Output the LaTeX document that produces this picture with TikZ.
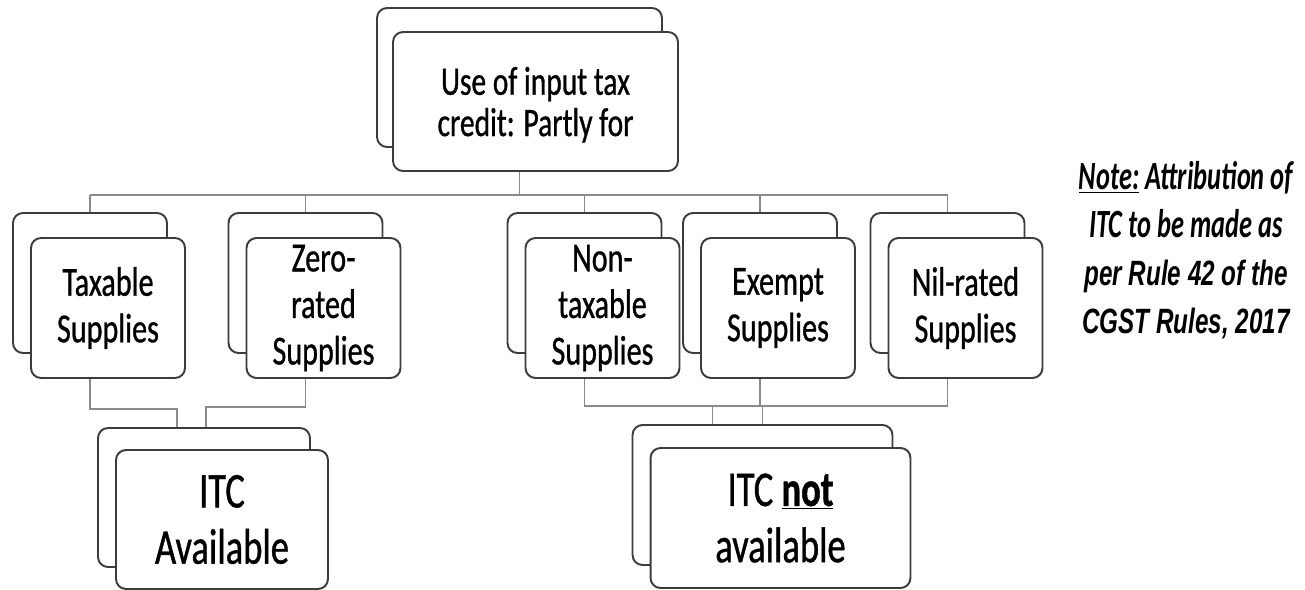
\documentclass[tikz,border=0pt]{standalone}
\usepackage{fontspec}
\setmainfont{Carlito}[FakeStretch=0.73,FakeBold=0.8]
\newfontfamily\notecal{Carlito}[FakeStretch=0.66]
\newfontfamily\notesans{Liberation Sans}[FakeStretch=0.69]
\usetikzlibrary{positioning,calc}
\definecolor{boxline}{HTML}{3C3C3C}
\definecolor{linkgray}{HTML}{8A8A8A}

\begin{document}
\begin{tikzpicture}[x=0.02cm,y=-0.02cm,
  card/.style={draw=boxline,line width=1.1pt,rounded corners=0.2cm,fill=white,inner sep=2pt,align=center},
  link/.style={draw=linkgray,line width=0.9pt},
  toptext/.style={font=\fontsize{23}{23.5}\selectfont},
  midtext/.style={font=\fontsize{23.5}{26.5}\selectfont},
  lowtext/.style={font=\fontsize{28.5}{32}\selectfont}]
\useasboundingbox (0,0) rectangle (1305,590);
% top level
\node[card,minimum width=5.7cm,minimum height=2.78cm] (topb) at (519.5,77.5) {};
\node[card,toptext,minimum width=5.7cm,minimum height=2.78cm,text depth=-0.4cm] (topf) at ($(topb)+(16,24)$) {Use of input tax\\credit: Partly for};
% kinds of supplies
\node[card,minimum width=3.08cm,minimum height=2.8cm] (taxb) at (90,283) {};
\node[card,midtext,minimum width=3.08cm,minimum height=2.8cm] (taxf) at ($(taxb)+(18,25)$) {Taxable\\Supplies};
\node[card,minimum width=3.08cm,minimum height=2.8cm] (zerob) at (305.5,283) {};
\node[card,midtext,minimum width=3.08cm,minimum height=2.8cm] (zerof) at ($(zerob)+(18,25)$) {Zero-\\rated\\Supplies};
\node[card,minimum width=3.08cm,minimum height=2.8cm] (nonb) at (584.5,283) {};
\node[card,midtext,minimum width=3.08cm,minimum height=2.8cm] (nonf) at ($(nonb)+(18,25)$) {Non-\\taxable\\Supplies};
\node[card,minimum width=3.08cm,minimum height=2.8cm] (exb) at (760,283) {};
\node[card,midtext,minimum width=3.08cm,minimum height=2.8cm] (exf) at ($(exb)+(18,25)$) {Exempt\\Supplies};
\node[card,minimum width=3.08cm,minimum height=2.8cm] (nilb) at (947.5,283) {};
\node[card,midtext,minimum width=3.08cm,minimum height=2.8cm] (nilf) at ($(nilb)+(18,25)$) {Nil-rated\\Supplies};
% outcome
\node[card,minimum width=4.24cm,minimum height=2.78cm] (availb) at (204,497.5) {};
\node[card,lowtext,minimum width=4.24cm,minimum height=2.78cm] (availf) at ($(availb)+(18,22)$) {ITC\\Available};
\node[card,minimum width=5.2cm,minimum height=2.8cm] (notb) at (762.5,495) {};
\node[card,lowtext,minimum width=5.2cm,minimum height=2.8cm] (notf) at ($(notb)+(18,23)$) {ITC \underline{\textbf{not}}\\available};
% note
\node[align=center,font=\fontsize{22.8}{27.3}\selectfont] (note) at (1186,250)
  {{\notecal\bfseries\itshape\underline{Note:} Attribution of}\\
   {\notecal\bfseries\itshape ITC to be made as}\\
   {\notesans\fontsize{20}{27.3}\selectfont\bfseries\itshape per Rule 42 of the}\\
   {\notesans\fontsize{20}{27.3}\selectfont\bfseries\itshape CGST Rules, 2017}};
% connectors
\coordinate (bus) at (0,195);
\draw[link] (topb.center |- topf.south) -- (topb.center |- bus);
\draw[link] (taxb.center |- bus) -- (nilb.center |- bus);
\draw[link] (taxb.center |- bus) -- (taxb.north);
\draw[link] (zerob.center |- bus) -- (zerob.north);
\draw[link] (nonb.center |- bus) -- (nonb.north);
\draw[link] (exb.center |- bus) -- (exb.north);
\draw[link] (nilb.center |- bus) -- (nilb.north);
\draw[link] (taxb.center |- taxf.south) |- ($(availb.north)+(-27,-18)$) -- ($(availb.north)+(-27,0)$);
\draw[link] (zerob.center |- zerof.south) |- ($(availb.north)+(2,-20)$) -- ($(availb.north)+(2,0)$);
\draw[link] (nonb.center |- nonf.south) |- ($(notb.north)+(0,-18)$);
\draw[link] (nilb.center |- nilf.south) |- ($(notb.north)+(0,-18)$) -- (notb.north);
\draw[link] (exb.center |- exf.south) -- ($(exb.center |- notb.north)+(0,-18)$);
\draw[link] ($(notb.north)+(-50,-18)$) -- ($(notb.north)+(-50,0)$);
\end{tikzpicture}
\end{document}
